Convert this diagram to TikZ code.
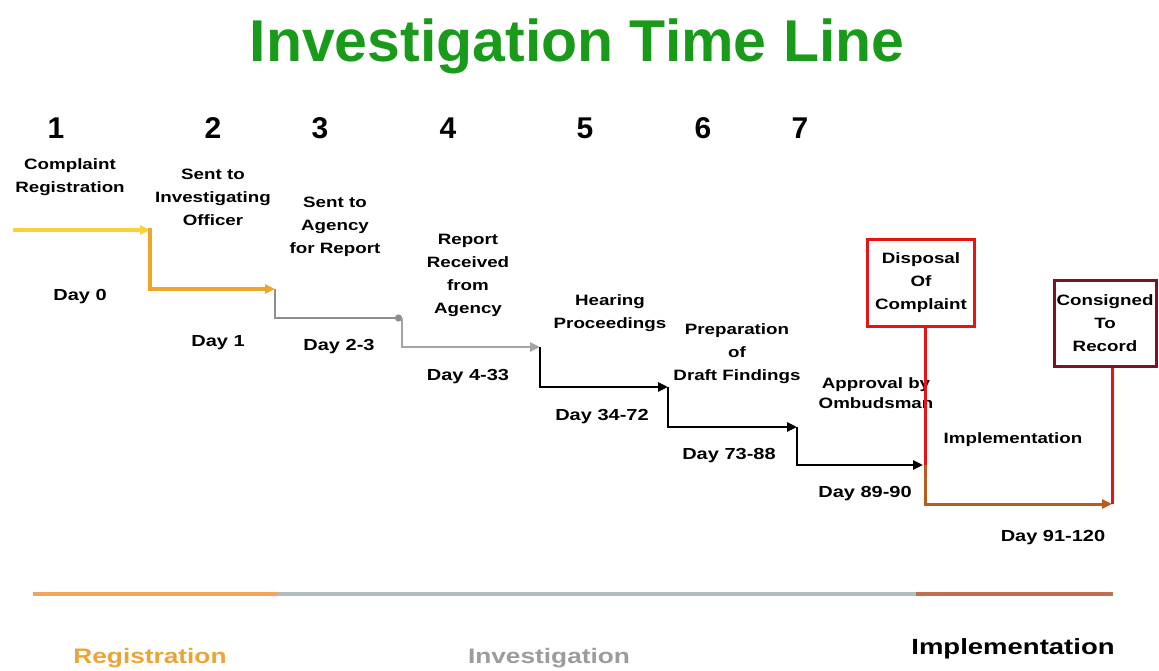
\documentclass[tikz,border=0pt]{standalone}
\usepackage{fontspec}
\setmainfont{Liberation Sans}
\newfontfamily\wf[FakeStretch=1.25]{Liberation Sans}
\usetikzlibrary{arrows.meta}
\definecolor{ttlgreen}{HTML}{1A9A1A}
\definecolor{cyel}{HTML}{F7D23A}
\definecolor{corg}{HTML}{EFA52A}
\definecolor{cgray}{HTML}{8E8E8E}
\definecolor{cgray2}{HTML}{A4A4A4}
\definecolor{cred}{HTML}{E81414}
\definecolor{cmaroon}{HTML}{7A1424}
\definecolor{cbrown}{HTML}{B85C20}
\definecolor{barorg}{HTML}{F5A55A}
\definecolor{bargray}{HTML}{B4BCC0}
\definecolor{barbrown}{HTML}{C0704E}
\definecolor{regorg}{HTML}{EBA435}
\definecolor{invgray}{HTML}{9C9C9C}
\begin{document}
\begin{tikzpicture}[x=1pt,y=-1pt,
  lbl/.style={font=\wf\bfseries\fontsize{15}{23}\selectfont, align=center, inner sep=0pt},
  daylbl/.style={font=\wf\bfseries\fontsize{16}{20}\selectfont, inner sep=0pt},
  num/.style={font=\bfseries\fontsize{30}{32}\selectfont, inner sep=0pt},
  seg/.style={line width=3pt, line join=miter, -{Triangle[length=10pt,width=9pt]}},
  boxnode/.style={draw, line width=3pt, align=center, inner sep=0pt,
    font=\wf\bfseries\fontsize{15}{23}\selectfont},
  bar/.style={line width=4.5pt},
  phase/.style={font=\wf\bfseries\fontsize{21}{24}\selectfont, inner sep=0pt}
]
\useasboundingbox (0,0) rectangle (1159,671);

% title
\node[font=\bfseries\fontsize{59}{60}\selectfont, text=ttlgreen, inner sep=0pt] (title) at (577,46) {Investigation Time Line};

% step numbers
\node[num] (n1) at (56,128) {1};
\node[num] (n2) at (213,128) {2};
\node[num] (n3) at (320,128) {3};
\node[num] (n4) at (448,128) {4};
\node[num] (n5) at (585,128) {5};
\node[num] (n6) at (703,128) {6};
\node[num] (n7) at (800,128) {7};

% step labels
\node[lbl] (l1) at (70,177) {Complaint\\Registration};
\node[lbl] (l2) at (213,197) {Sent to\\Investigating\\Officer};
\node[lbl] (l3) at (335,227) {Sent to\\Agency\\for Report};
\node[lbl] (l4) at (468,275) {Report\\Received\\from\\Agency};
\node[lbl] (l5) at (610,313) {Hearing\\Proceedings};
\node[lbl] (l6) at (737,354) {Preparation\\of\\Draft Findings};
\node[lbl, font=\wf\bfseries\fontsize{15}{20}\selectfont] (l7) at (876,393) {Approval by\\Ombudsman};
\node[lbl] (impl) at (1013,440) {Implementation};

% day labels
\node[daylbl] (d0) at (80,297) {Day 0};
\node[daylbl] (d1) at (218,343) {Day 1};
\node[daylbl] (d2) at (339,347) {Day 2-3};
\node[daylbl] (d3) at (468,377) {Day 4-33};
\node[daylbl] (d4) at (602,417) {Day 34-72};
\node[daylbl] (d5) at (729,456) {Day 73-88};
\node[daylbl] (d6) at (865,494) {Day 89-90};
\node[daylbl] (d7) at (1053,538) {Day 91-120};

% boxes
\node[boxnode, draw=cred, minimum width=107pt, minimum height=87pt] (disp) at (921,283) {Disposal\\Of\\Complaint};
\node[boxnode, draw=cmaroon, minimum width=102pt, minimum height=86pt] (cons) at (1105,323) {Consigned\\To\\Record};

% timeline corners
\coordinate (p0) at (13,230);
\coordinate (p1) at (150,230);
\coordinate (p2) at (150,289);
\coordinate (p3) at (275,289);
\coordinate (p4) at (275,318);
\coordinate (p5) at (402,318);
\coordinate (p6) at (402,347);
\coordinate (p7) at (540,347);
\coordinate (p8) at (540,387);
\coordinate (p9) at (668,387);
\coordinate (p10) at (668,427);
\coordinate (p11) at (797,427);
\coordinate (p12) at (797,465);
\coordinate (p13) at (923,465);
\coordinate (r1) at (925,465);
\coordinate (p14) at (925,504);
\coordinate (p15) at (1112,504);

\draw[seg, cyel, line width=3.5pt] (p0) -- (p1);
\draw[seg, corg, line width=3.5pt, shorten <=-1.5pt] (p1) -- (p2) -- (p3);
\draw[line width=2.5pt, cgray, -{Circle[length=7pt]}] (p3) -- (p4) -- (p5);
\draw[seg, cgray2, line width=2.5pt] (p5) -- (p6) -- (p7);
\draw[seg, black, line width=2.5pt] (p7) -- (p8) -- (p9);
\draw[seg, black, line width=2.5pt] (p9) -- (p10) -- (p11);
\draw[seg, black, line width=2.5pt] (p11) -- (p12) -- (p13);

\draw[cred, line width=3pt] (disp.south -| r1) -- (r1);
\draw[seg, cbrown] (r1) -- (p14) -- (p15);
\draw[cred, line width=3pt] (cons.south -| p15) -- (p15);

% phase bar
\coordinate (b0) at (33,594);
\coordinate (b1) at (277,594);
\coordinate (b2) at (916,594);
\coordinate (b3) at (1113,594);
\draw[bar, barorg] (b0) -- (b1);
\draw[bar, bargray] (b1) -- (b2);
\draw[bar, barbrown] (b2) -- (b3);

\node[phase, text=regorg] (reg) at (150,658) {Registration};
\node[phase, text=invgray] (inv) at (549,658) {Investigation};
\node[phase, font=\wf\bfseries\fontsize{22}{24}\selectfont] (imp) at (1013,649) {Implementation};
\end{tikzpicture}
\end{document}
